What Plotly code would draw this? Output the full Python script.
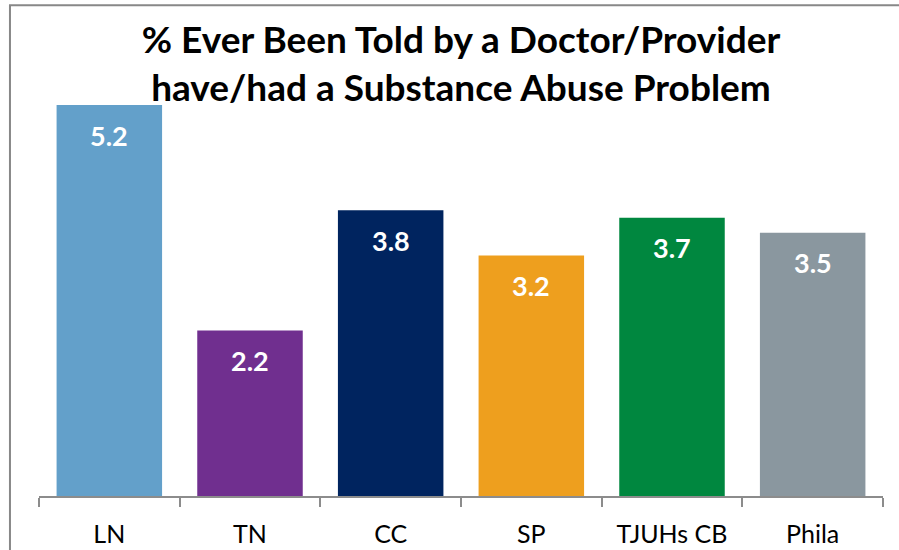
import plotly.graph_objects as go

CATEGORIES = ["LN", "TN", "CC", "SP", "TJUHs CB", "Phila"]
VALUES = [5.2, 2.2, 3.8, 3.2, 3.7, 3.5]
BAR_COLORS = ["#63A0CA", "#702F8F", "#00245F", "#EE9F1E", "#00873F", "#8A979F"]

TITLE = "% Ever Been Told by a Doctor/Provider<br>have/had a Substance Abuse Problem"
AXIS = "#8C8C8C"
FONT = "Lato"

fig = go.Figure(
  go.Bar(
    x=CATEGORIES,
    y=VALUES,
    marker=dict(color=BAR_COLORS, line=dict(width=0)),
    width=0.75,
    hoverinfo="x+y",
  )
)

for cat, val in zip(CATEGORIES, VALUES):
  fig.add_annotation(
    x=cat,
    y=val,
    text=f"<b>{val:.1f}</b>",
    showarrow=False,
    yanchor="middle",
    yshift=-30,
    font=dict(family=FONT, size=27, color="white"),
  )

fig.update_layout(
  width=899,
  height=550,
  paper_bgcolor="white",
  plot_bgcolor="white",
  margin=dict(l=39, r=16, t=105, b=54),
  showlegend=False,
  title=dict(
    text=f"<b>{TITLE}</b>",
    x=0.5,
    xref="paper",
    xanchor="center",
    y=1 - 53 / 550,
    yanchor="middle",
    font=dict(family=FONT, size=37, color="black"),
  ),
  shapes=[
    dict(
      type="rect",
      xref="paper",
      yref="paper",
      x0=-0.0344,
      x1=1.05,
      y0=-0.2,
      y1=1.2554,
      line=dict(color="#888888", width=2),
      layer="below",
    )
  ],
)

fig.update_xaxes(
  showline=True,
  linecolor=AXIS,
  linewidth=2,
  ticks="outside",
  tickson="boundaries",
  ticklen=9,
  tickwidth=2,
  tickcolor=AXIS,
  ticklabelstandoff=15,
  tickfont=dict(family=FONT, size=25, color="black"),
  showgrid=False,
  automargin=False,
)
fig.update_yaxes(
  range=[0, 5.2],
  visible=False,
  showgrid=False,
  automargin=False,
)

fig.write_html(
  "out.html",
  config={"displayModeBar": False},
  post_script="document.body.style.margin='0';",
)
